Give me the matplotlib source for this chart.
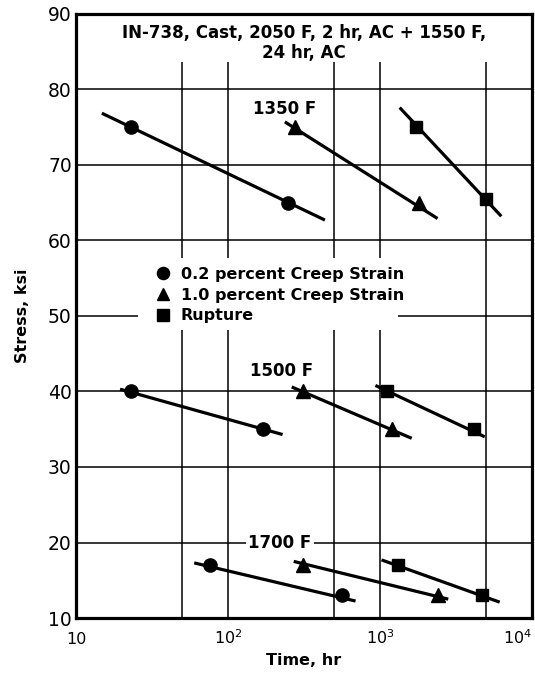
import numpy as np
import matplotlib.pyplot as plt
from matplotlib.patches import Rectangle


# test temperatures (F) and the stress/time points for each criterion
temps = ["1350 F", "1500 F", "1700 F"]

creep02_time   = [[23, 250], [23, 171], [76, 560]]
creep02_stress = [[75, 65], [40, 35], [17, 13]]
creep10_time   = [[276, 1815], [313, 1195], [312, 2400]]
creep10_stress = [[75, 65], [40, 35], [17, 13]]
rupture_time   = [[1718, 5020], [1107, 4170], [1310, 4730]]
rupture_stress = [[75, 65.5], [40, 35], [17, 13]]

# faired lines, running a little past the data
creep02_fit_time   = [[14.8, 435], [19.5, 229], [60, 692]]
creep02_fit_stress = [[76.85, 62.7], [40.3, 34.3], [17.3, 12.25]]
creep10_fit_time   = [[237, 2400], [263, 1620], [271, 2820]]
creep10_fit_stress = [[75.7, 62.9], [40.6, 33.8], [17.5, 12.5]]
rupture_fit_time   = [[1350, 6300], [935, 4900], [1025, 6150]]
rupture_fit_stress = [[77.6, 63.2], [40.8, 34.0], [17.7, 12.1]]

xticks = [10, 100, 1000, 10000]
xticklabels = ["10", r"$\mathregular{10^2}$", r"$\mathregular{10^3}$", r"$\mathregular{10^4}$"]
xgrid_minor = [50, 500, 5000]
yticks = [10, 20, 30, 40, 50, 60, 70, 80, 90]

labels = ["0.2 percent Creep Strain", "1.0 percent Creep Strain", "Rupture"]


plt.rcParams['font.family'] = ['DejaVu Sans']

fig = plt.figure(figsize=(5.35, 6.75), dpi=100)
ax = fig.add_axes([0.142, 0.0844, 0.852, 0.895])

ax.set_xscale('log')
ax.set_xlim(10, 1e4)
ax.set_ylim(10, 90)
ax.set_axisbelow(True)

ax.set_xticks(xticks)
ax.set_xticklabels(xticklabels)
ax.set_xticks(xgrid_minor, minor=True)
ax.set_xticklabels([], minor=True)
ax.set_yticks(yticks)

ax.tick_params(which='both', length=0)
ax.tick_params(axis='y', labelsize=13.5, pad=3)
ax.tick_params(axis='x', labelsize=11.5, pad=19)
for lab in ax.get_xticklabels():
    lab.set_va('baseline')
ax.get_xticklabels()[-1].set_ha('right')

ax.grid(which='both', color='k', lw=1.1)
for sp in ax.spines.values():
    sp.set_linewidth(2.3)

# white areas that cut the grid behind the heading and the key
ax.add_patch(Rectangle((0, 0.921), 1, 0.079, transform=ax.transAxes,
                       fc='white', ec='none', zorder=1))
ax.add_patch(Rectangle((0.136, 0.477), 0.57, 0.119, transform=ax.transAxes,
                       fc='white', ec='none', zorder=1))

series = [
    (creep02_time, creep02_stress, creep02_fit_time, creep02_fit_stress, 'o', 9.5),
    (creep10_time, creep10_stress, creep10_fit_time, creep10_fit_stress, '^', 10),
    (rupture_time, rupture_stress, rupture_fit_time, rupture_fit_stress, 's', 9),
]

handles = []
for (tt, ss, ft, fs, mk, ms) in series:
    for i in range(len(temps)):
        ax.plot(ft[i], fs[i], color='k', lw=2.3, solid_capstyle='butt', zorder=2)
        h, = ax.plot(tt[i], ss[i], ls='none', marker=mk, ms=ms, color='k', zorder=3)
    handles.append(h)

ax.text(0.5, 0.952, "IN-738, Cast, 2050 F, 2 hr, AC + 1550 F,\n24 hr, AC",
        transform=ax.transAxes, ha='center', va='center', fontsize=12,
        fontweight='bold', linespacing=1.2)

ax.text(237, 77.4, temps[0], ha='center', va='center', fontsize=12, fontweight='bold')
ax.text(225, 42.7, temps[1], ha='center', va='center', fontsize=12, fontweight='bold')
ax.text(220, 20, temps[2], ha='center', va='center', fontsize=12, fontweight='bold',
        bbox=dict(fc='white', ec='none', pad=1.5))

leg = ax.legend(handles, labels, loc='upper left', bbox_to_anchor=(0.176, 0.581),
                frameon=False, fontsize=11.5, handlelength=0.9, handletextpad=0.65,
                labelspacing=0.35, borderpad=0, borderaxespad=0, markerscale=0.92)
for t in leg.get_texts():
    t.set_fontweight('bold')

ax.set_xlabel("Time, hr", fontsize=11.5, fontweight='bold')
ax.xaxis.set_label_coords(0.5, -0.07)
ax.xaxis.label.set_va('center')
ax.set_ylabel("Stress, ksi", fontsize=11.5, fontweight='bold', va='center')
ax.yaxis.set_label_coords(-0.118, 0.5)

plt.savefig("out.png", dpi=100)
